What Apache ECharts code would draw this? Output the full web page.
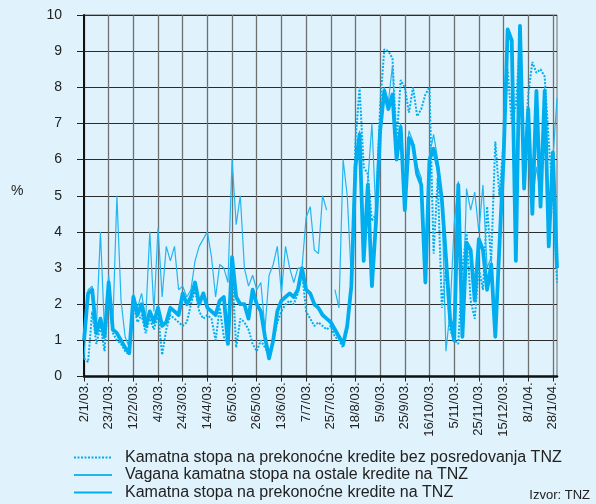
<!DOCTYPE html>
<html lang="hr">
<head>
<meta charset="UTF-8">
<title>Kamatne stope na TNZ</title>
<script src="https://cdn.jsdelivr.net/npm/echarts@6.0.0/dist/echarts.min.js"></script>
<style>
  html, body { margin: 0; padding: 0; background: #e0f2fc; }
  #chart { width: 596px; height: 504px; }
</style>
</head>
<body>
<div id="chart"></div>
<script>
    // oznake na osi x (svaka 6. tocka)
    var tickLabels = ['2/1/03.', '23/1/03.', '12/2/03.', '4/3/03.', '24/3/03.', '14/4/03.', '6/5/03.',
        '26/5/03.', '13/6/03.', '7/7/03.', '25/7/03.', '18/8/03.', '5/9/03.', '25/9/03.',
        '16/10/03.', '5/11/03.', '25/11/03.', '15/12/03.', '8/1/04.', '28/1/04.'];
    var perTick = 6;

    // Kamatna stopa na prekonocne kredite bez posredovanja TNZ (tockasta)
    var dotted = [0.5, 0.4, 1.8, 0.9, 1.4, 0.7, 2.4, 1.2, 1.0, 0.9,
        0.7, 0.6, 2.0, 1.5, 1.7, 1.2, 1.6, 1.3, 1.7, 0.6,
        1.3, 1.7, 1.6, 1.5, 1.4, 1.5, 2.0, 2.4, 1.8, 1.6,
        1.7, 1.6, 1.0, 1.9, 1.1, 0.9, 3.0, 0.8, 1.6, 1.5,
        1.3, 0.9, 0.7, 1.0, 0.8, 0.6, 1.0, 1.5, 1.8, 2.0,
        2.1, 2.0, 2.3, 2.9, 1.8, 1.6, 1.4, 1.5, 1.4, 1.3,
        1.4, 1.1, 1.0, 0.8, 1.3, 2.6, 6.5, 8.0, 5.8, 5.6,
        4.3, 4.5, 7.5, 9.05, 9.0, 8.8, 6.5, 8.2, 8.0, 7.3,
        8.0, 7.2, 7.4, 7.8, 8.0, 3.4, 5.5, 1.9, 3.0, 1.3,
        1.0, 0.9, 3.0, 4.0, 2.1, 1.6, 3.0, 2.4, 4.7, 3.2,
        6.5, 5.0, 6.5, 8.5, 7.0, 7.5, 9.3, 5.5, 7.8, 8.7,
        8.4, 8.5, 8.3, 6.5, 5.0, 2.6];

    // Vagana kamatna stopa na ostale kredite na TNZ (tanka)
    var thin = [0.5, 2.4, 2.5, 1.3, 4.0, 1.2, 2.8, 1.4, 5.0, 2.1,
        1.1, 0.8, 2.3, 1.9, 2.3, 1.6, 4.0, 1.8, 4.1, 2.2,
        3.6, 3.2, 3.6, 2.4, 2.5, 2.2, 2.4, 3.2, 3.6, 3.8,
        4.0, 3.3, 2.2, 3.1, 3.0, 2.6, 6.0, 4.2, 5.0, 3.0,
        2.5, 2.8, 2.4, 2.6, 1.3, 2.8, 3.1, 3.6, 2.3, 3.6,
        3.0, 2.6, 3.0, 3.0, 4.4, 4.7, 3.5, 3.4, 5.0, 4.6,
        null, 2.4, 1.9, 6.0, 5.0, 2.7, 5.9, 6.8, 3.3, 5.4,
        7.0, 4.4, 6.9, 8.0, 7.6, 8.6, 6.2, 7.0, 5.0, 6.8,
        6.5, 5.8, 5.5, 2.8, 6.1, 6.7, 6.0, 5.0, 0.7, 1.8,
        4.2, 5.4, 1.3, 5.2, 4.6, 5.1, 4.0, 5.3, 3.0, 3.3,
        1.3, 3.8, 6.2, 9.5, 9.2, 3.4, 9.6, 5.4, 6.5, 4.8,
        5.8, 5.0, 8.0, 3.8, 6.0, 7.7];

    // Kamatna stopa na prekonocne kredite na TNZ (debela)
    var thick = [1.0, 2.3, 2.4, 1.2, 1.6, 1.1, 2.6, 1.3, 1.2, 1.0,
        0.8, 0.65, 2.2, 1.7, 2.0, 1.4, 1.8, 1.5, 1.9, 1.4,
        1.5, 1.9, 1.8, 1.7, 2.3, 2.0, 2.2, 2.6, 2.0, 2.3,
        1.9, 1.8, 1.7, 2.1, 2.2, 0.9, 3.3, 2.2, 2.0, 2.0,
        1.6, 2.4, 2.0, 1.8, 1.1, 0.5, 1.0, 1.8, 2.1, 2.2,
        2.3, 2.2, 2.4, 3.0, 2.4, 2.3, 2.0, 1.9, 1.7, 1.6,
        1.5, 1.3, 1.1, 0.9, 1.4, 2.5, 5.8, 6.7, 3.2, 5.3,
        2.5, 4.3, 6.8, 7.9, 7.4, 7.8, 6.0, 6.9, 4.6, 6.6,
        6.4, 5.6, 5.3, 2.6, 6.0, 6.3, 5.8, 4.9, 3.3, 1.6,
        1.0, 5.3, 1.1, 3.7, 3.5, 2.1, 3.8, 3.5, 2.4, 3.1,
        1.1, 3.6, 6.0, 9.6, 9.3, 3.2, 9.7, 5.2, 7.4, 4.5,
        7.9, 4.7, 7.9, 3.6, 6.2, 3.0];

    var names = ['Kamatna stopa na prekonoćne kredite bez posredovanja TNZ',
        'Vagana kamatna stopa na ostale kredite na TNZ',
        'Kamatna stopa na prekonoćne kredite na TNZ'];

    var days = [];
    for (var i = 0; i < thick.length; i++) {
        days.push(String(i));
    }

    var font = 'Liberation Sans';
    var blue = '#00aeef';
    var myChart = echarts.init(document.getElementById('chart'));
    var option = {
        animation: false,
        backgroundColor: '#e0f2fc',
        textStyle: { fontFamily: font },
        grid: {
            left: 84,
            top: 15,
            width: 473,
            height: 361.5,
            show: true,
            borderColor: '#6f6f6f',
            borderWidth: 1
        },
        legend: {
            orient: 'vertical',
            left: 73,
            top: 449.5,
            height: 56,
            padding: 0,
            itemWidth: 38,
            itemHeight: 14,
            itemGap: 1.5,
            itemStyle: { opacity: 0 },
            textStyle: { fontSize: 16, lineHeight: 14, color: '#222', padding: [0, 0, 0, 8] },
            data: names
        },
        xAxis: {
            type: 'category',
            data: days,
            boundaryGap: false,
            axisLine: { lineStyle: { color: '#111', width: 2.5 } },
            axisTick: { interval: perTick - 1, length: 5, lineStyle: { color: '#222' } },
            axisLabel: {
                interval: perTick - 1,
                rotate: 90,
                margin: 6,
                fontSize: 13,
                color: '#222',
                formatter: function (v, idx) {
                    return tickLabels[idx / perTick] || '';
                }
            },
            splitLine: { show: true, interval: perTick - 1, lineStyle: { color: '#707070', width: 1.3 } }
        },
        yAxis: {
            type: 'value',
            min: 0,
            max: 10,
            interval: 1,
            axisLine: { show: true, lineStyle: { color: '#111', width: 2 } },
            axisTick: { show: true, length: 7, lineStyle: { color: '#222' } },
            axisLabel: { fontSize: 14, color: '#222', margin: 22 },
            splitLine: { lineStyle: { color: '#2b2b2b', width: 1.2 } }
        },
        graphic: [
            { type: 'text', left: 11, top: 184, style: { text: '%', fontSize: 14, fontFamily: font, fill: '#222' } },
            { type: 'text', right: 6, top: 489, style: { text: 'Izvor: TNZ', fontSize: 13, fontFamily: font, fill: '#222' } }
        ],
        series: [
            {
                name: names[0],
                type: 'line',
                data: dotted,
                symbol: 'none',
                itemStyle: { color: blue },
                lineStyle: { color: blue, width: 2, type: [2, 1.5] }
            },
            {
                name: names[1],
                type: 'line',
                data: thin,
                symbol: 'none',
                connectNulls: false,
                itemStyle: { color: '#22b5f0' },
                lineStyle: { color: '#22b5f0', width: 1.2 }
            },
            {
                name: names[2],
                type: 'line',
                data: thick,
                symbol: 'none',
                itemStyle: { color: blue },
                lineStyle: { color: blue, width: 3.8, join: 'round' }
            }
        ]
    };
    myChart.setOption(option);
</script>
</body>
</html>
